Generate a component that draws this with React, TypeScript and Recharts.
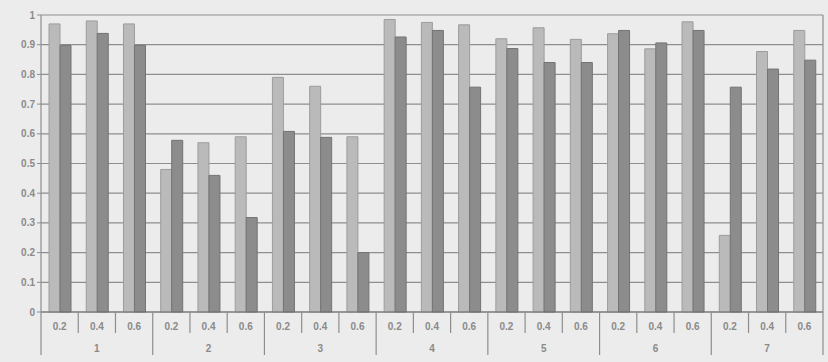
import React from 'react';
import { BarChart, Bar, XAxis, YAxis, CartesianGrid } from 'recharts';

const groupLabels = ['1', '2', '3', '4', '5', '6', '7'];
const subLabels = ['0.2', '0.4', '0.6'];
const seriesLight = [0.97, 0.98, 0.97, 0.48, 0.57, 0.59, 0.79, 0.76, 0.59, 0.985, 0.975, 0.967, 0.92, 0.957, 0.918, 0.937, 0.886, 0.977, 0.258, 0.877, 0.948];
const seriesDark = [0.898, 0.938, 0.898, 0.578, 0.46, 0.318, 0.608, 0.588, 0.2, 0.926, 0.948, 0.757, 0.887, 0.84, 0.84, 0.948, 0.906, 0.948, 0.757, 0.818, 0.848];
const yTicks = [0, 0.1, 0.2, 0.3, 0.4, 0.5, 0.6, 0.7, 0.8, 0.9, 1];

const data = seriesLight.map((v, i) => ({
  id: i,
  sub: subLabels[i % 3],
  group: groupLabels[Math.floor(i / 3)],
  light: v,
  dark: seriesDark[i],
}));

const W = 828;
const H = 362;
const M = { top: 15, right: 5, bottom: 0, left: 0 };
const YW = 41;
const XH = 50;
const PLOT_LEFT = M.left + YW;
const PLOT_RIGHT = W - M.right;
const PLOT_TOP = M.top;
const BASE = H - M.bottom - XH;
const BW = (PLOT_RIGHT - PLOT_LEFT) / data.length;
const LINE = '#8e8e8e';
const TEXT = '#8a8a8a';
const FONT = '"Liberation Sans", Arial, sans-serif';

const XTick = (props: any) => {
  const { x, payload, index } = props;
  const i = typeof index === 'number' ? index : payload.value;
  const d = data[i];
  const right = x + BW / 2;
  const left = x - BW / 2;
  const isGroupEnd = i % 3 === 2;
  return (
    <g>
      <text x={x} y={BASE + 18} textAnchor="middle" fontSize={10} fill={TEXT} fontFamily={FONT} fontWeight="bold">
        {d.sub}
      </text>
      {i % 3 === 1 && (
        <text x={x} y={BASE + 40} textAnchor="middle" fontSize={10} fill={TEXT} fontFamily={FONT} fontWeight="bold">
          {d.group}
        </text>
      )}
      {i === 0 && <line x1={left} x2={left} y1={BASE} y2={BASE + 43} stroke={LINE} strokeWidth={1.2} />}
      {i === data.length - 1 ? (
        <line x1={right} x2={right} y1={PLOT_TOP} y2={BASE + 43} stroke={LINE} strokeWidth={1.2} />
      ) : (
        <line x1={right} x2={right} y1={BASE} y2={isGroupEnd ? BASE + 43 : BASE + 21} stroke={LINE} strokeWidth={1.2} />
      )}
    </g>
  );
};

export default function App() {
  return (
    <div style={{ position: 'absolute', left: 0, top: 0, width: W, height: H, background: '#ececec' }}>
      <BarChart width={W} height={H} data={data} margin={M} barGap={0} barSize={11}>
        <CartesianGrid horizontal vertical={false} stroke={LINE} strokeWidth={1.2} />
        <XAxis
          dataKey="id"
          type="category"
          height={XH}
          interval={0}
          tickLine={false}
          axisLine={{ stroke: '#707070', strokeWidth: 1.2 }}
          tick={<XTick />}
        />
        <YAxis
          width={YW}
          domain={[0, 1]}
          ticks={yTicks}
          interval={0}
          tickSize={4}
          tickLine={{ stroke: LINE }}
          axisLine={{ stroke: LINE, strokeWidth: 1.2 }}
          tickFormatter={(v: number) => String(v)}
          tick={{ fontSize: 10, fill: TEXT, fontFamily: FONT, fontWeight: 'bold' }}
        />
        <Bar dataKey="light" fill="#bababa" stroke="#9c9c9c" strokeWidth={1} isAnimationActive={false} />
        <Bar dataKey="dark" fill="#8c8c8c" stroke="#737373" strokeWidth={1} isAnimationActive={false} />
      </BarChart>
    </div>
  );
}
